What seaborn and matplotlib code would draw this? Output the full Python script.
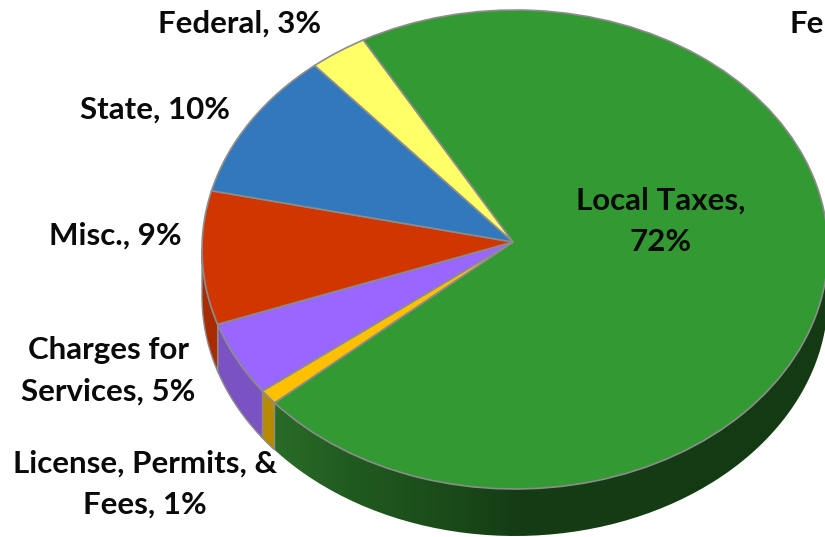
import numpy as np
import matplotlib
matplotlib.use("Agg")
import matplotlib.pyplot as plt
import seaborn as sns
from matplotlib.colors import LinearSegmentedColormap
from matplotlib.patches import PathPatch
from matplotlib.path import Path

categories = ["Local Taxes", "License, Permits, & Fees", "Charges for Services",
              "Misc.", "State", "Federal"]
shares = [72, 1, 5, 9, 10, 3]
slice_colors = ["#339933", "#FFC000", "#9966FF", "#D23600", "#3278BC", "#FFFF66"]
wall_colors = ["#1F5A1E", "#B88A00", "#7A52C2", "#A82C00", "#275E94", "#CCCC50"]
label_texts = ["Local Taxes,\n72%", "License, Permits, &\nFees, 1%", "Charges for\nServices, 5%",
               "Misc., 9%", "State, 10%", "Federal, 3%"]
label_pixels = [(661, 221), (145, 484), (108, 371), (115, 236), (155, 110), (240, 24)]

W, H = 825, 537
CX, CY, RX, RY = 515, 249.5, 313, 239.5   # ellipse of the top face, in pixels
APEX = (513, 242)
DEPTH = 47 / RY
EDGE = "#8C8C8C"
FONT_SIZE = 22.5

sns.set_theme(style="white")
plt.rcParams["font.family"] = ["Lato", "DejaVu Sans"]

fig = plt.figure(figsize=(W / 100, H / 100), dpi=100)
ax = fig.add_axes([0, 0, 1, 1])

wedges, _ = ax.pie(shares, colors=sns.color_palette(slice_colors), startangle=119,
                   counterclock=False, radius=1,
                   wedgeprops=dict(edgecolor=EDGE, linewidth=1.2, zorder=5))

# The perspective puts the point of the pie slightly above the ellipse centre.
apex = np.array([(APEX[0] - CX) / RX, (CY - APEX[1]) / RY])
for w in wedges:
    verts = w.get_path().vertices
    verts[np.linalg.norm(verts, axis=1) < 1e-9] = apex


def wall_outline(lo, hi):
    t = np.radians(np.linspace(lo, hi, 120))
    x, y = np.cos(t), np.sin(t)
    return np.r_[x, x[::-1]], np.r_[y, y[::-1] - DEPTH]


# Side walls follow the visible (front) part of each slice's arc.
for i, (w, wall) in enumerate(zip(wedges, wall_colors)):
    lo, hi = max(w.theta1, -180), min(w.theta2, 0)
    if lo >= hi:
        continue
    xs, ys = wall_outline(lo, hi)
    if i == 0:
        ramp = LinearSegmentedColormap.from_list(
            "wall", [(0.0, "#2A6B27"), (0.14, "#205A1F"), (0.32, "#1A4A1A"),
                     (0.44, "#153C14"), (1.0, "#143A14")])
        x0, x1 = xs.min(), xs.max()
        img = ax.imshow(np.linspace(0, 1, 256)[None, :], cmap=ramp, aspect="auto",
                        extent=(x0, x1, -1.3, 0), zorder=2)
        clip = PathPatch(Path(np.c_[xs, ys]), transform=ax.transData, facecolor="none", edgecolor="none")
        ax.add_patch(clip)
        img.set_clip_path(clip)
    else:
        ax.fill(xs, ys, facecolor=wall, edgecolor=EDGE, linewidth=1.0, zorder=3)

ax.set_aspect("auto")
ax.set_xlim(-CX / RX, (W - CX) / RX)
ax.set_ylim(-(H - CY) / RY, CY / RY)
ax.axis("off")

for text, (px, py) in zip(label_texts, label_pixels):
    ax.text(px / W, 1 - py / H, text, transform=ax.transAxes, ha="center", va="center",
            fontsize=FONT_SIZE, fontweight="bold", color="#0A0A0A", linespacing=1.6, zorder=10)
# Start of a second label at the right edge
ax.text(790 / W, 1 - 24 / H, "Fe", transform=ax.transAxes, ha="left", va="center",
        fontsize=FONT_SIZE, fontweight="bold", color="#0A0A0A", zorder=10)

fig.savefig("out.png", dpi=100, facecolor="white")
